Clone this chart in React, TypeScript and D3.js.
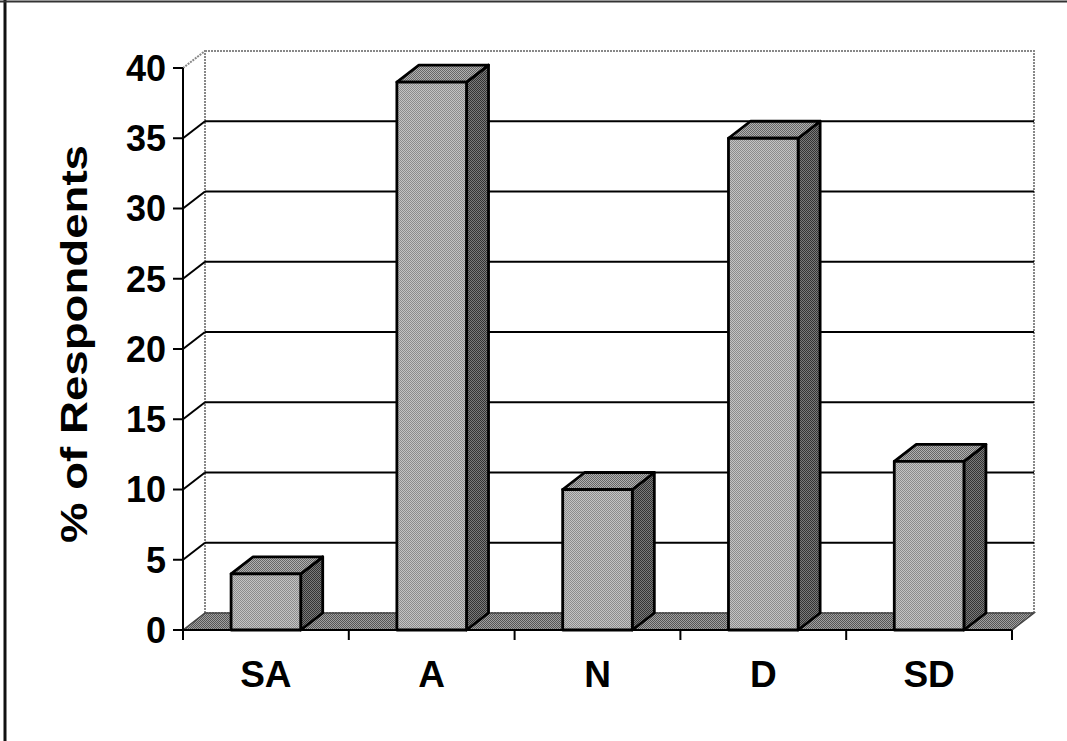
import React from "react";
import * as d3 from "d3";

// Survey responses, % of respondents per answer
const categories = ["SA", "A", "N", "D", "SD"];
const percents = [4, 39, 10, 35, 12];
const yTicks = [0, 5, 10, 15, 20, 25, 30, 35, 40];
const yTitle = "% of Respondents";

const W = 1067;
const H = 741;
// front plane of the plot
const X0 = 183;
const X1 = 1012;
const Y0 = 630;
const Y1 = 68;
// depth offset of the 3D box
const DX = 22;
const DY = -17;

const FONT = "'Liberation Sans', Arial, Helvetica, sans-serif";

function Checker({ id, a, b }: { id: string; a: string; b: string }) {
  return (
    <pattern id={id} width={2} height={2} patternUnits="userSpaceOnUse">
      <rect width={2} height={2} fill={a} />
      <rect width={1} height={1} fill={b} />
      <rect x={1} y={1} width={1} height={1} fill={b} />
    </pattern>
  );
}

export default function App() {
  const y = d3.scaleLinear().domain([0, 40]).range([Y0, Y1]);
  const x = d3.scaleBand<string>().domain(categories).range([X0, X1]).padding(0);
  const bw = x.bandwidth() * 0.42;

  const pts = (p: [number, number][]) => p.map((q) => q.join(",")).join(" ");

  return (
    <svg
      width={W}
      height={H}
      viewBox={`0 0 ${W} ${H}`}
      style={{ position: "absolute", left: 0, top: 0, background: "#fff" }}
    >
      <defs>
        <Checker id="front" a="#c4c4c4" b="#8c8c8c" />
        <Checker id="side" a="#7a7a7a" b="#333333" />
        <Checker id="top" a="#b0b0b0" b="#666666" />
        <Checker id="floor" a="#a0a0a0" b="#555555" />
      </defs>

      {/* page frame */}
      <line x1={5} y1={0} x2={5} y2={H} stroke="#111" strokeWidth={3} />
      <line x1={0} y1={1.5} x2={W} y2={1.5} stroke="#333" strokeWidth={2} />

      {/* side wall and back wall */}
      <polygon
        points={pts([
          [X0, Y1],
          [X0 + DX, Y1 + DY],
          [X0 + DX, Y0 + DY],
          [X0, Y0],
        ])}
        fill="#fff"
      />
      <rect
        x={X0 + DX}
        y={Y1 + DY}
        width={X1 - X0}
        height={Y0 - Y1}
        fill="#fff"
        stroke="#888"
        strokeWidth={2}
        strokeDasharray="2 1"
      />
      <line x1={X0} y1={Y1} x2={X0 + DX} y2={Y1 + DY} stroke="#888" strokeWidth={2} strokeDasharray="2 1" />

      {/* gridlines on back and side walls */}
      {yTicks
        .filter((t) => t > 0 && t < 40)
        .map((t) => (
          <g key={`g${t}`}>
            <line x1={X0 + DX} x2={X1 + DX} y1={y(t) + DY} y2={y(t) + DY} stroke="#000" strokeWidth={2} />
            <line x1={X0} x2={X0 + DX} y1={y(t)} y2={y(t) + DY} stroke="#000" strokeWidth={2} />
          </g>
        ))}

      {/* floor */}
      <polygon
        points={pts([
          [X0, Y0],
          [X0 + DX, Y0 + DY],
          [X1 + DX, Y0 + DY],
          [X1, Y0],
        ])}
        fill="url(#floor)"
        stroke="#444"
        strokeWidth={1.5}
      />

      {/* bars */}
      {categories.map((c, i) => {
        const v = percents[i];
        const xl = (x(c) as number) + (x.bandwidth() - bw) / 2;
        const xr = xl + bw;
        const yt = y(v);
        return (
          <g key={c} stroke="#000" strokeWidth={2.8} strokeLinejoin="round">
            <polygon
              points={pts([
                [xr, yt],
                [xr + DX, yt + DY],
                [xr + DX, Y0 + DY],
                [xr, Y0],
              ])}
              fill="url(#side)"
            />
            <polygon
              points={pts([
                [xl, yt],
                [xl + DX, yt + DY],
                [xr + DX, yt + DY],
                [xr, yt],
              ])}
              fill="url(#top)"
            />
            <rect x={xl} y={yt} width={bw} height={Y0 - yt} fill="url(#front)" />
          </g>
        );
      })}

      {/* value axis */}
      <line x1={X0} x2={X0} y1={Y1} y2={Y0} stroke="#000" strokeWidth={2} />
      {yTicks.map((t) => (
        <g key={`t${t}`}>
          <line x1={X0 - 10} x2={X0} y1={y(t)} y2={y(t)} stroke="#000" strokeWidth={2} />
          <text
            x={X0 - 17}
            y={y(t)}
            dy="0.36em"
            textAnchor="end"
            fontFamily={FONT}
            fontWeight="bold"
            fontSize={36}
            fill="#000"
          >
            {t}
          </text>
        </g>
      ))}

      {/* category axis */}
      <line x1={X0} x2={X1} y1={Y0} y2={Y0} stroke="#000" strokeWidth={2} />
      {[...categories.map((c) => x(c) as number), X1].map((px, i) => (
        <line key={`c${i}`} x1={px} x2={px} y1={Y0} y2={Y0 + 10} stroke="#000" strokeWidth={2} />
      ))}
      {categories.map((c) => (
        <text
          key={`l${c}`}
          x={(x(c) as number) + x.bandwidth() / 2}
          y={687}
          textAnchor="middle"
          fontFamily={FONT}
          fontWeight="bold"
          fontSize={37}
          fill="#000"
        >
          {c}
        </text>
      ))}

      {/* axis title */}
      <text
        transform="translate(87,344) rotate(-90)"
        textAnchor="middle"
        fontFamily={FONT}
        fontWeight="bold"
        fontSize={36}
        textLength={398}
        lengthAdjust="spacingAndGlyphs"
        fill="#000"
      >
        {yTitle}
      </text>
    </svg>
  );
}
